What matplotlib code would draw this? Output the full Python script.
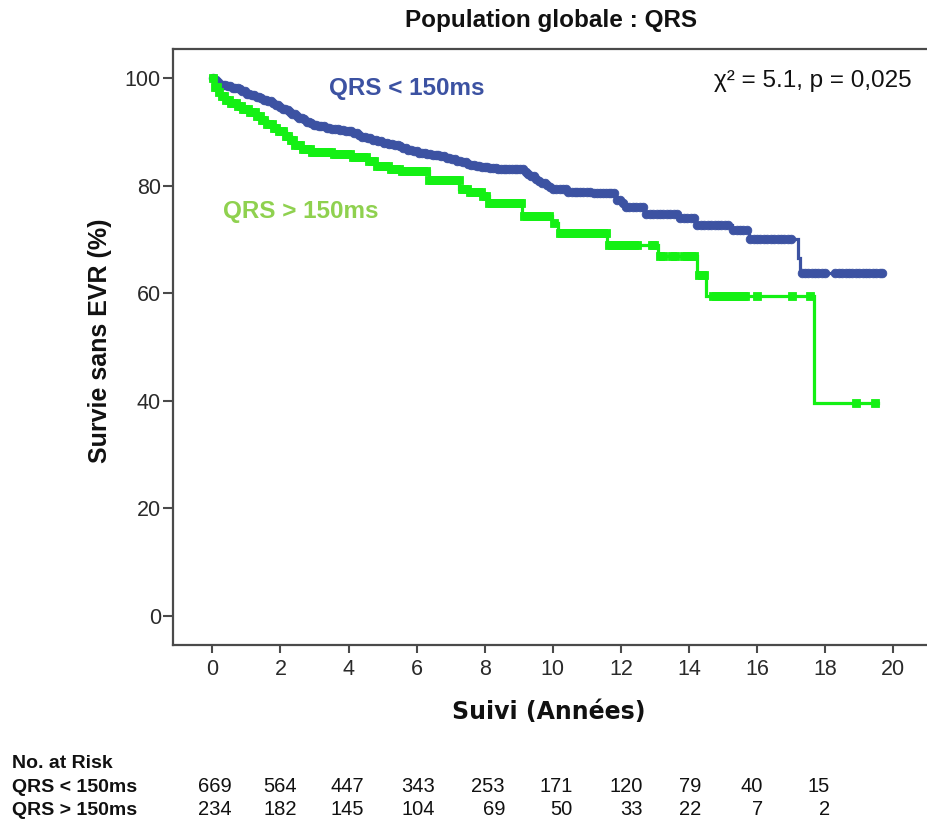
import numpy as np
import matplotlib.pyplot as plt

plt.rcParams['font.family'] = ['Liberation Sans', 'DejaVu Sans']

# Kaplan-Meier curve, QRS < 150 ms: event times (years) and survival after each step (%)
lt_times = [0, 0.04, 0.12, 0.22, 0.4, 0.6, 0.75, 0.88, 1.0, 1.12, 1.25, 1.38, 1.5,
            1.62, 1.75, 1.85, 1.95, 2.05, 2.15, 2.25, 2.35, 2.45, 2.55, 2.65, 2.75,
            2.85, 2.97, 3.1, 3.3, 3.5, 3.7, 3.9, 4.1, 4.25, 4.4, 4.55, 4.7, 4.85, 5.0,
            5.15, 5.3, 5.45, 5.6, 5.75, 5.9, 6.05, 6.25, 6.45, 6.65, 6.85, 7.0, 7.15,
            7.3, 7.45, 7.6, 7.75, 7.9, 8.1, 8.4, 9.15, 9.25, 9.35, 9.45, 9.55, 9.65,
            9.78, 9.9, 10.0, 10.4, 11.2, 11.85, 12.0, 12.1, 12.7, 13.7, 14.2, 15.25,
            15.75, 17.2, 17.25]
lt_surv = [100, 99.6, 99.2, 98.8, 98.5, 98.2, 97.9, 97.5, 97.1, 96.8, 96.5, 96.2, 96.0,
           95.7, 95.4, 95.0, 94.6, 94.3, 94.0, 93.7, 93.3, 92.9, 92.6, 92.3, 91.9,
           91.6, 91.3, 91.0, 90.8, 90.5, 90.3, 90.1, 89.8, 89.5, 89.1, 88.8, 88.5, 88.3,
           88.0, 87.8, 87.5, 87.3, 87.0, 86.7, 86.4, 86.1, 85.9, 85.7, 85.5, 85.2, 84.9,
           84.6, 84.3, 84.1, 83.8, 83.6, 83.4, 83.2, 83.0, 82.5, 82.1, 81.7, 81.3, 80.9,
           80.5, 80.1, 79.7, 79.3, 78.9, 78.6, 77.4, 76.8, 76.1, 74.8, 74.0, 72.7, 71.8,
           70.1, 66.5, 63.8]
lt_end = 19.66
lt_censor = [0.03, 0.1, 0.17, 0.25, 0.31, 0.38, 0.46, 0.53, 0.6, 0.67, 0.74, 0.81, 0.88,
             0.95, 1.02, 1.09, 1.16, 1.23, 1.3, 1.37, 1.44, 1.51, 1.58, 1.65, 1.72, 1.79,
             1.86, 1.93, 2.0, 2.07, 2.14, 2.21, 2.28, 2.35, 2.42, 2.49, 2.56, 2.63, 2.7,
             2.77, 2.84, 2.91, 2.98, 3.05, 3.12, 3.2, 3.28, 3.36, 3.44, 3.52, 3.6, 3.68,
             3.76, 3.84, 3.92, 4.0, 4.08, 4.16, 4.24, 4.32, 4.4, 4.48, 4.56, 4.64, 4.72,
             4.8, 4.88, 4.96, 5.04, 5.12, 5.2, 5.28, 5.36, 5.44, 5.52, 5.6, 5.68, 5.76,
             5.84, 5.92, 6.0, 6.08, 6.16, 6.24, 6.32, 6.4, 6.48, 6.56, 6.64, 6.72, 6.8,
             6.88, 6.96, 7.04, 7.12, 7.2, 7.28, 7.36, 7.44, 7.52, 7.6, 7.68, 7.76, 7.84,
             7.92, 8.0, 8.08, 8.16, 8.24, 8.32, 8.4, 8.48, 8.56, 8.64, 8.72, 8.8, 8.88,
             8.96, 9.04, 9.12, 9.2, 9.28, 9.36, 9.44, 9.52, 9.6, 9.68, 9.76, 9.84, 9.92,
             10.0, 10.1, 10.2, 10.3, 10.38, 10.46, 10.55, 10.64, 10.72, 10.8, 10.9, 11.0,
             11.1, 11.2, 11.3, 11.38, 11.46, 11.55, 11.64, 11.72, 11.8, 11.9, 11.98,
             12.06, 12.15, 12.25, 12.35, 12.45, 12.55, 12.65, 12.75, 12.85, 12.95, 13.05,
             13.15, 13.25, 13.35, 13.45, 13.55, 13.65, 13.75, 13.85, 13.95, 14.05, 14.15,
             14.25, 14.35, 14.45, 14.55, 14.65, 14.75, 14.85, 14.95, 15.05, 15.15, 15.3,
             15.4, 15.5, 15.6, 15.7, 15.8, 15.9, 16.0, 16.1, 16.2, 16.3, 16.4, 16.5, 16.6,
             16.7, 16.8, 16.9, 17.0, 17.32, 17.4, 17.5, 17.6, 17.7, 17.8, 17.9, 18.0,
             18.3, 18.4, 18.5, 18.6, 18.7, 18.8, 18.9, 19.0, 19.1, 19.2, 19.3, 19.4, 19.5,
             19.6, 19.66]

# Kaplan-Meier curve, QRS > 150 ms
gt_times = [0, 0.03, 0.08, 0.15, 0.23, 0.4, 0.55, 0.72, 0.9, 1.05, 1.3, 1.45, 1.6,
            1.75, 1.9, 2.15, 2.3, 2.4, 2.6, 2.9, 3.5, 4.1, 4.55, 4.8, 5.2, 5.5, 6.35,
            7.25, 7.5, 7.95, 8.12, 9.1, 9.98, 10.15, 11.6, 13.08, 14.25, 14.5, 17.68]
gt_surv = [100, 99.1, 98.3, 97.4, 96.6, 96.0, 95.4, 94.8, 94.2, 93.6, 93.0, 92.2, 91.5,
           90.8, 90.1, 89.3, 88.4, 87.6, 86.9, 86.2, 85.8, 85.4, 84.6, 83.6, 83.0, 82.7,
           81.1, 79.3, 78.9, 78.0, 76.8, 74.3, 73.1, 71.2, 69.0, 66.9, 63.3, 59.4, 39.6]
gt_end = 19.55
gt_censor = [0.02, 0.08, 0.14, 0.2, 0.27, 0.34, 0.41, 0.48, 0.55, 0.62, 0.69, 0.76, 0.83,
             0.9, 0.97, 1.04, 1.11, 1.18, 1.25, 1.32, 1.39, 1.46, 1.53, 1.6, 1.67, 1.74,
             1.81, 1.88, 1.95, 2.02, 2.09, 2.16, 2.23, 2.3, 2.37, 2.44, 2.51, 2.58, 2.65,
             2.72, 2.79, 2.86, 2.93, 3.0, 3.08, 3.16, 3.24, 3.32, 3.4, 3.48, 3.56, 3.64,
             3.72, 3.8, 3.88, 3.96, 4.04, 4.12, 4.2, 4.28, 4.36, 4.44, 4.52, 4.6, 4.68,
             4.76, 4.84, 4.92, 5.0, 5.08, 5.16, 5.24, 5.32, 5.4, 5.48, 5.56, 5.64, 5.72,
             5.8, 5.88, 5.96, 6.04, 6.12, 6.2, 6.28, 6.36, 6.44, 6.52, 6.6, 6.68, 6.76,
             6.84, 6.92, 7.0, 7.08, 7.16, 7.24, 7.32, 7.4, 7.48, 7.56, 7.64, 7.72, 7.8,
             7.88, 7.96, 8.04, 8.12, 8.2, 8.28, 8.36, 8.44, 8.52, 8.6, 8.68, 8.76, 8.84,
             8.92, 9.0, 9.08, 9.16, 9.24, 9.32, 9.4, 9.48, 9.56, 9.64, 9.72, 9.8, 9.88,
             10.05, 10.2, 10.28, 10.36, 10.44, 10.52, 10.6, 10.68, 10.76, 10.84, 10.92,
             11.0, 11.08, 11.16, 11.24, 11.32, 11.4, 11.48, 11.56, 11.66, 11.74, 11.82,
             11.9, 11.98, 12.06, 12.14, 12.22, 12.3, 12.38, 12.46, 12.9, 12.98, 13.15,
             13.25, 13.5, 13.6, 13.85, 13.95, 14.05, 14.15, 14.3, 14.38, 14.44, 14.72,
             14.8, 14.88, 14.96, 15.04, 15.12, 15.2, 15.28, 15.36, 15.44, 15.52, 15.6,
             15.64, 15.99, 17.02, 17.55, 18.9, 19.46]

# Numbers at risk every 2 years
risk_lt = [669, 564, 447, 343, 253, 171, 120, 79, 40, 15]
risk_gt = [234, 182, 145, 104, 69, 50, 33, 22, 7, 2]

x_ticks = list(range(0, 21, 2))
y_ticks = list(range(0, 101, 20))

BLUE = '#3c52a2'
GREEN = '#14f014'
LABEL_GREEN = '#8fd14f'
SPINE = '#4a4a4a'

W, H = 928, 819
fig = plt.figure(figsize=(W / 100, H / 100), dpi=100)


def fx(px):
    return px / W


def fy(py):
    return 1 - py / H


ax = fig.add_axes([fx(173.5), fy(645), 1 - fx(173.5), fy(49) - fy(645)])
ax.set_xlim(-1.14, 21.02)
ax.set_ylim(-5.4, 105.4)


def km_draw(times, surv, end, censor, color, marker, ms, z):
    xs = list(times) + [end]
    ys = list(surv) + [surv[-1]]
    ax.step(xs, ys, where='post', color=color, lw=2.3, zorder=z,
            solid_joinstyle='miter')
    t = np.asarray(times)
    s = np.asarray(surv)
    c = np.asarray(censor)
    cy = s[np.searchsorted(t, c, side='right') - 1]
    ax.plot(c, cy, ls='none', marker=marker, ms=ms, color=color,
            mec=color, mew=0.6, zorder=z + 0.1)


km_draw(lt_times, lt_surv, lt_end, lt_censor, BLUE, 'o', 6.2, 3)
km_draw(gt_times, gt_surv, gt_end, gt_censor, GREEN, 's', 5.6, 4)

ax.set_xticks(x_ticks)
ax.set_yticks(y_ticks)
ax.tick_params(axis='both', direction='out', color=SPINE, width=1.5,
               labelsize=15.5, labelcolor='#2a2a2a')
ax.tick_params(axis='y', length=7, pad=2)
ax.tick_params(axis='x', length=6, pad=4)
for side in ['left', 'top', 'bottom']:
    ax.spines[side].set_color(SPINE)
    ax.spines[side].set_linewidth(1.6)
ax.spines['right'].set_visible(False)

# Titles and labels
fig.text(fx(551), fy(26.5), 'Population globale : QRS', ha='center', va='baseline',
         fontsize=17.5, fontweight='bold', color='#111111')
fig.text(fx(100), fy(340.5), 'Survie sans EVR (%)', ha='center', va='center',
         rotation=90, fontsize=18, fontweight='bold', color='#111111')
fig.text(fx(549), fy(712), 'Suivi (Années)', ha='center', va='center',
         fontsize=17, fontweight='bold', color='#111111', family='DejaVu Sans')

fig.text(fx(407), fy(95), 'QRS < 150ms', ha='center', va='baseline',
         fontsize=17.5, fontweight='bold', color=BLUE)
fig.text(fx(300.5), fy(218), 'QRS > 150ms', ha='center', va='baseline',
         fontsize=17.5, fontweight='bold', color=LABEL_GREEN)
fig.text(fx(912), fy(87), 'χ² = 5.1, p = 0,025', ha='right', va='baseline',
         fontsize=17.5, color='#111111')

# Numbers-at-risk table
col_right_px = [232, 297, 364, 435, 505, 573, 643, 701, 763, 830]
fig.text(fx(12), fy(768), 'No. at Risk', ha='left', va='baseline',
         fontsize=14, fontweight='bold', color='#111111')
for label, counts, base in [('QRS < 150ms', risk_lt, 792),
                            ('QRS > 150ms', risk_gt, 815)]:
    fig.text(fx(12), fy(base), label, ha='left', va='baseline',
             fontsize=14, fontweight='bold', color='#111111')
    for n, xr in zip(counts, col_right_px):
        fig.text(fx(xr), fy(base), str(n), ha='right', va='baseline',
                 fontsize=14.5, color='#111111')

fig.savefig('out.png', dpi=100)
